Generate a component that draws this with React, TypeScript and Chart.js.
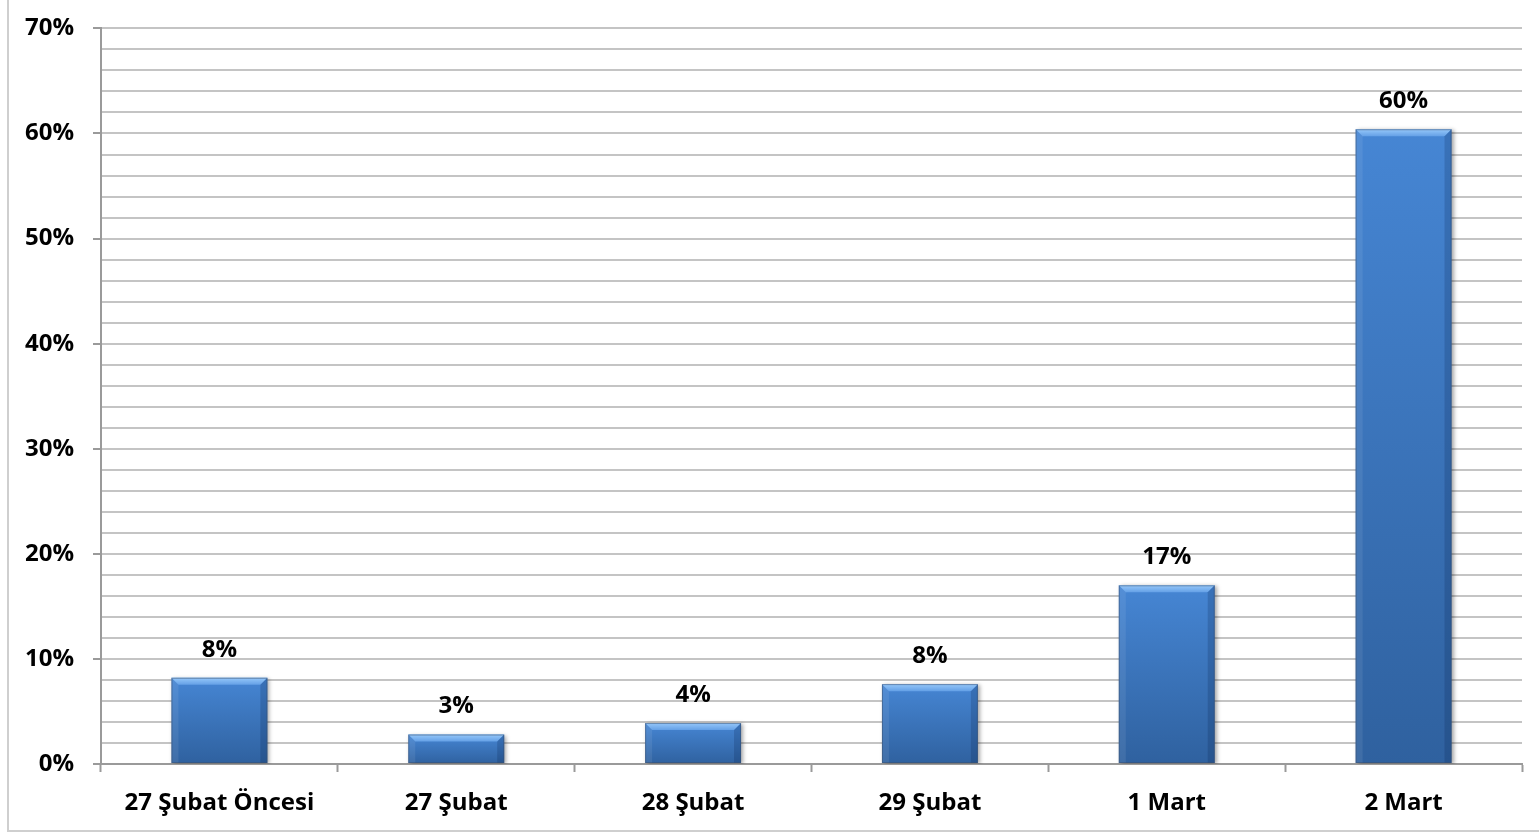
import React, { useEffect, useRef } from "react";
import { Chart, registerables } from "chart.js";

Chart.register(...registerables);

const categories = ["27 Şubat Öncesi", "27 Şubat", "28 Şubat", "29 Şubat", "1 Mart", "2 Mart"];
const values = [8.2, 2.8, 3.9, 7.6, 17.0, 60.4];
const valueLabels = ["8%", "3%", "4%", "8%", "17%", "60%"];

const FONT = "'Open Sans', 'DejaVu Sans', sans-serif";
const FONT_SIZE = 24;

const bevelPlugin = {
  id: "bevel",
  beforeDatasetsDraw(chart: any) {
    const ctx = chart.ctx;
    ctx.save();
    ctx.shadowColor = "rgba(0,0,0,0.35)";
    ctx.shadowBlur = 4;
    ctx.shadowOffsetX = 2;
    ctx.shadowOffsetY = 1;
  },
  afterDatasetsDraw(chart: any) {
    const ctx = chart.ctx;
    ctx.restore();
    const meta = chart.getDatasetMeta(0);
    meta.data.forEach((bar: any, i: number) => {
      const left = bar.x - bar.width / 2;
      const right = bar.x + bar.width / 2;
      const top = bar.y;
      const bottom = bar.base;
      const b = 7;
      ctx.save();
      const tg = ctx.createLinearGradient(0, top, 0, top + b);
      tg.addColorStop(0, "rgba(150,200,250,1)");
      tg.addColorStop(1, "rgba(100,160,230,1)");
      ctx.beginPath();
      ctx.moveTo(left, top);
      ctx.lineTo(right, top);
      ctx.lineTo(right - b, top + b);
      ctx.lineTo(left + b, top + b);
      ctx.closePath();
      ctx.fillStyle = tg;
      ctx.fill();
      ctx.beginPath();
      ctx.moveTo(left, top);
      ctx.lineTo(left + b, top + b);
      ctx.lineTo(left + b, bottom);
      ctx.lineTo(left, bottom);
      ctx.closePath();
      ctx.fillStyle = "rgba(255,255,255,0.08)";
      ctx.fill();
      ctx.beginPath();
      ctx.moveTo(right, top);
      ctx.lineTo(right - b, top + b);
      ctx.lineTo(right - b, bottom);
      ctx.lineTo(right, bottom);
      ctx.closePath();
      ctx.fillStyle = "rgba(0,20,60,0.18)";
      ctx.fill();
      ctx.strokeStyle = "rgba(60,80,110,0.5)";
      ctx.lineWidth = 1;
      ctx.strokeRect(left + 0.5, top + 0.5, right - left - 1, bottom - top - 1);
      ctx.restore();
      ctx.save();
      ctx.font = `bold ${FONT_SIZE}px ${FONT}`;
      ctx.fillStyle = "#000";
      ctx.textAlign = "center";
      ctx.textBaseline = "middle";
      ctx.fillText(valueLabels[i], bar.x, top - 28);
      ctx.restore();
    });
  },
};

export default function App() {
  const ref = useRef<HTMLCanvasElement>(null);
  useEffect(() => {
    if (!ref.current) return;
    const chart = new Chart(ref.current, {
      type: "bar",
      data: {
        labels: categories,
        datasets: [
          {
            data: values,
            barPercentage: 0.405,
            categoryPercentage: 1,
            borderWidth: 0,
            backgroundColor: (c: any) => {
              const chartObj = c.chart;
              const ys = chartObj.scales?.y;
              if (!ys || c.raw == null) return "#3d78c2";
              const top = ys.getPixelForValue(c.raw);
              const bottom = ys.getPixelForValue(0);
              if (!isFinite(top) || !isFinite(bottom) || top === bottom) return "#3d78c2";
              const g = chartObj.ctx.createLinearGradient(0, top, 0, bottom);
              g.addColorStop(0, "#4686d4");
              g.addColorStop(1, "#2f619f");
              return g;
            },
          },
        ],
      },
      options: {
        animation: false,
        responsive: true,
        maintainAspectRatio: false,
        layout: { padding: { top: 23, right: 17, left: 0, bottom: 0 } },
        plugins: { legend: { display: false }, tooltip: { enabled: false } },
        scales: {
          x: {
            offset: true,
            afterFit: (s: any) => {
              s.height = 71;
            },
            grid: {
              offset: true,
              drawOnChartArea: false,
              drawTicks: true,
              tickLength: 8,
              tickColor: "#9a9a9a",
              tickWidth: 2,
            },
            border: { color: "#9a9a9a", width: 2 },
            ticks: {
              color: "#000",
              padding: 17,
              autoSkip: false,
              font: { family: FONT, size: FONT_SIZE, weight: "bold" },
              maxRotation: 0,
            },
          },
          y: {
            min: 0,
            max: 70,
            afterFit: (s: any) => {
              s.width = 101;
            },
            ticks: {
              stepSize: 2,
              autoSkip: false,
              color: "#000",
              padding: 19,
              font: { family: FONT, size: FONT_SIZE, weight: "bold" },
              callback: (v: any) => (Math.round(v) % 10 === 0 ? `${Math.round(v)}%` : ""),
            },
            grid: {
              color: "#c4c4c4",
              lineWidth: 2,
              tickLength: 8,
              tickWidth: 2,
              tickColor: (c: any) =>
                c.tick && Math.round(c.tick.value) % 10 === 0 ? "#9a9a9a" : "rgba(0,0,0,0)",
            },
            border: { color: "#9a9a9a", width: 2 },
          },
        },
      },
      plugins: [bevelPlugin],
    } as any);
    return () => chart.destroy();
  }, []);

  return (
    <div
      style={{
        position: "fixed",
        left: 0,
        top: 0,
        width: 1539,
        height: 835,
        background: "#fff",
        overflow: "hidden",
      }}
    >
      <div
        style={{
          position: "absolute",
          left: 7,
          top: -10,
          width: 1600,
          height: 842,
          border: "2px solid #cfcfcf",
          boxSizing: "border-box",
        }}
      />
      <div style={{ position: "absolute", left: 0, top: -5, width: 1539, height: 840 }}>
        <canvas ref={ref} />
      </div>
    </div>
  );
}
